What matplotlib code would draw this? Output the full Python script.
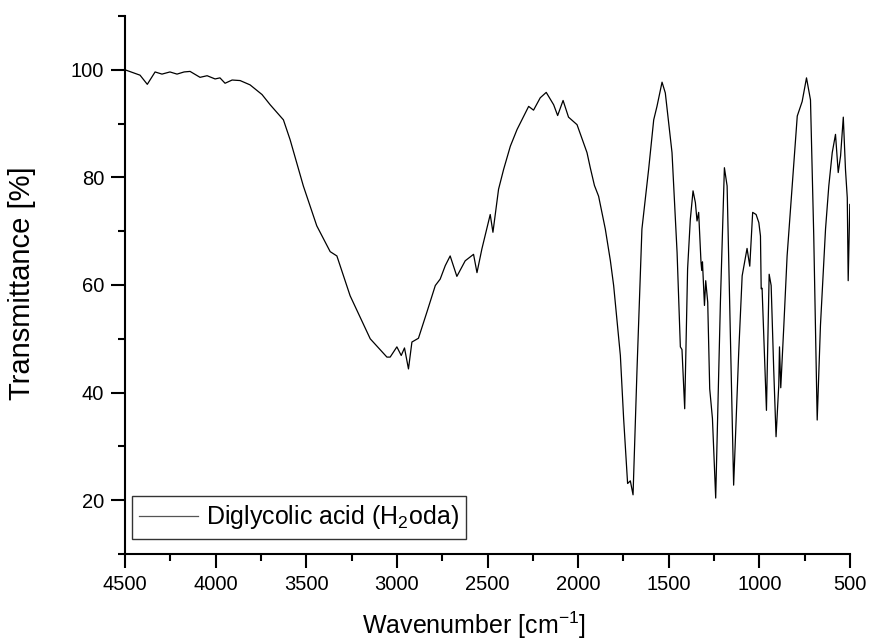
import matplotlib
matplotlib.use("Agg")
import matplotlib.pyplot as plt
from matplotlib.ticker import MultipleLocator

plt.rcParams['font.family'] = ['Liberation Sans', 'DejaVu Sans']
plt.rcParams['mathtext.fontset'] = 'custom'
plt.rcParams['mathtext.rm'] = 'Liberation Sans'
plt.rcParams['mathtext.it'] = 'Liberation Sans:italic'
plt.rcParams['mathtext.bf'] = 'Liberation Sans:bold'

wavenumber = [4500, 4417, 4377, 4334, 4296, 4252, 4213, 4174, 4141, 4086, 4047, 4003,
              3976, 3948, 3909, 3865, 3810, 3744, 3699, 3626, 3589, 3516, 3442, 3368,
              3331, 3258, 3147, 3055, 3037, 3000, 2976, 2958, 2936, 2917, 2881, 2834,
              2788, 2761, 2733, 2706, 2669, 2623, 2577, 2558, 2531, 2485, 2470, 2439,
              2411, 2374, 2337, 2273, 2246, 2209, 2176, 2135, 2113, 2083, 2053, 2006,
              1951, 1933, 1910, 1887, 1850, 1822, 1804, 1767, 1749, 1727, 1712, 1697,
              1675, 1648, 1611, 1583, 1565, 1537, 1519, 1482, 1454, 1436, 1427, 1412,
              1396, 1381, 1366, 1353, 1344, 1335, 1322, 1318, 1314, 1303, 1296, 1285,
              1274, 1259, 1241, 1215, 1193, 1178, 1164, 1142, 1114, 1095, 1068, 1053,
              1037, 1018, 1003, 994, 990, 985, 983, 961, 946, 935, 921, 908, 893, 889,
              882, 865, 847, 819, 791, 764, 740, 718, 700, 681, 663, 635, 617, 598,
              580, 565, 552, 537, 525, 515, 510, 501, 492]
transmittance = [100.0, 99.0, 97.3, 99.6, 99.2, 99.6, 99.2, 99.6, 99.7, 98.6, 98.9, 98.3,
                 98.5, 97.5, 98.1, 98.0, 97.2, 95.4, 93.5, 90.7, 87.0, 78.4, 71.0, 66.2,
                 65.4, 58.0, 50.0, 46.6, 46.6, 48.5, 46.9, 48.3, 44.4, 49.4, 50.1, 55.0,
                 59.9, 61.1, 63.6, 65.4, 61.6, 64.5, 65.7, 62.3, 66.7, 73.1, 69.8, 77.8,
                 81.5, 85.8, 88.9, 93.2, 92.5, 94.8, 95.8, 93.5, 91.5, 94.3, 91.2, 89.8,
                 84.6, 81.8, 78.5, 76.5, 70.4, 64.5, 59.9, 46.9, 35.2, 23.1, 23.6, 21.0,
                 44.4, 70.4, 81.5, 90.7, 93.2, 97.7, 95.7, 84.6, 66.0, 48.5, 48.0, 37.0,
                 63.0, 72.2, 77.5, 75.3, 71.9, 73.5, 64.2, 62.7, 64.3, 56.2, 60.8, 56.8,
                 40.7, 35.2, 20.4, 56.8, 81.8, 78.4, 56.8, 22.8, 47.5, 61.7, 66.8, 63.5,
                 73.5, 73.1, 71.6, 69.1, 59.3, 59.4, 57.4, 36.7, 62.0, 59.9, 44.4, 31.8, 41.4, 48.5,
                 40.9, 52.5, 65.4, 78.4, 91.4, 94.1, 98.5, 94.4, 69.1, 34.9, 52.5, 70.4, 78.4, 84.6,
                 88.0, 80.9, 84.0, 91.2, 81.5, 76.2, 60.8, 75.0, 69.4]

series_label = 'Diglycolic acid (H$_2$oda)'
x_label = 'Wavenumber [cm$^{-1}$]'
y_label = 'Transmittance [%]'

W, H = 873, 642
fig = plt.figure(figsize=(W / 100, H / 100), dpi=100)
ax = fig.add_axes([125 / W, 1 - 554 / H, 725 / W, 538 / H])
ax.plot(wavenumber, transmittance, color='black', lw=0.9, label=series_label)

ax.set_xlim(4500, 500)
ax.set_ylim(10, 110)
ax.xaxis.set_major_locator(MultipleLocator(500))
ax.xaxis.set_minor_locator(MultipleLocator(250))
ax.yaxis.set_major_locator(MultipleLocator(20))
ax.yaxis.set_minor_locator(MultipleLocator(10))

for s in ['top', 'right']:
    ax.spines[s].set_visible(False)
for s in ['left', 'bottom']:
    ax.spines[s].set_linewidth(1.5)

ax.tick_params(which='major', direction='out', length=10, width=1.5, labelsize=14.5, pad=5)
ax.tick_params(which='minor', direction='out', length=5, width=1.5)

fig.text(474 / W, 1 - 625 / H, x_label, fontsize=18, ha='center', va='center')
fig.text(22 / W, 1 - 283 / H, y_label, fontsize=21, ha='center', va='center', rotation=90)

leg = ax.legend(loc='lower left', bbox_to_anchor=(0.009, 0.028), borderaxespad=0,
                fontsize=18, frameon=True, fancybox=False, edgecolor='black',
                handlelength=2.35, handletextpad=0.32, borderpad=0.3)
leg.get_frame().set_linewidth(1.0)
leg.get_lines()[0].set_color('#555555')

fig.savefig('out.png', dpi=100)
